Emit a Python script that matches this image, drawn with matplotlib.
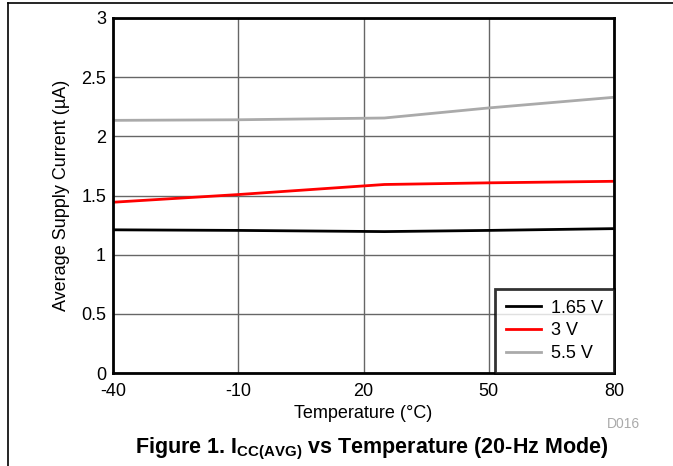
import numpy as np
import matplotlib
matplotlib.use('Agg')
import matplotlib.pyplot as plt

plt.rcParams['font.family'] = ['Liberation Sans', 'DejaVu Sans']
plt.rcParams['axes.unicode_minus'] = False
plt.rcParams['mathtext.fontset'] = 'custom'
plt.rcParams['mathtext.rm'] = 'Liberation Sans'
plt.rcParams['mathtext.bf'] = 'Liberation Sans:bold'

# Datos
temperatura = [-40, -10, 25, 50, 80]
i_165 = [1.21, 1.205, 1.195, 1.205, 1.22]
i_3 = [1.443, 1.508, 1.593, 1.607, 1.62]
i_55 = [2.135, 2.14, 2.155, 2.24, 2.33]
etiquetas = ['1.65 V', '3 V', '5.5 V']
colores = ['black', '#ff0000', '#aaaaaa']

fig = plt.figure(figsize=(6.73, 4.66), dpi=100)
ax = fig.add_axes([113/673, 1 - 373/466, 501/673, 355/466])

for serie, etiqueta, color in zip([i_165, i_3, i_55], etiquetas, colores):
    ax.plot(temperatura, serie, color=color, lw=2, label=etiqueta)

ax.set_xlim(-40, 80)
ax.set_ylim(0, 3)
ax.set_xticks([-40, -10, 20, 50, 80])
ax.set_yticks([0, 0.5, 1, 1.5, 2, 2.5, 3])
ax.set_yticklabels(['0', '0.5', '1', '1.5', '2', '2.5', '3'])
ax.tick_params(length=0, labelsize=13)
ax.tick_params(axis='x', pad=7)
ax.tick_params(axis='y', pad=5)
ax.grid(True, color='#666666', lw=1)
ax.set_axisbelow(True)
for s in ax.spines.values():
    s.set_linewidth(2)

ax.set_xlabel('Temperature (°C)', fontsize=13, labelpad=4)
ax.set_ylabel('Average Supply Current (µA)', fontsize=13, labelpad=8)

leg = ax.legend(loc='lower right', fontsize=13, frameon=True, fancybox=False,
                borderaxespad=0, handlelength=1.95, handletextpad=0.55,
                labelspacing=0.32, borderpad=0.6)
leg.get_frame().set_edgecolor('black')
leg.get_frame().set_linewidth(2)

fig.text(623/673, 1 - 424/466, 'D016', fontsize=10, color='#aaaaaa',
         ha='center', va='center')
fig.text(372/673, 1 - 449/466,
         r'Figure 1. I$_{\mathbf{CC(AVG)}}$ vs Temperature (20-Hz Mode)',
         fontsize=15.5, fontweight='bold', ha='center', va='center')

# Marco exterior
fig.add_artist(plt.Line2D([8/673, 8/673], [0, 1 - 3/466], color='black', lw=1.2))
fig.add_artist(plt.Line2D([8/673, 1], [1 - 3/466, 1 - 3/466], color='black', lw=1.2))

fig.savefig('out.png', dpi=100)
